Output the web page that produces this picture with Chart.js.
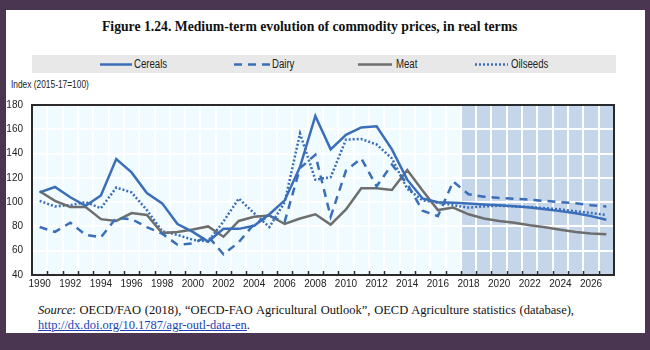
<!DOCTYPE html>
<html>
<head>
<meta charset="utf-8">
<script src="https://cdn.jsdelivr.net/npm/chart.js@4.4.1/dist/chart.umd.min.js"></script>
<style>
  html, body { margin: 0; padding: 0; }
  body { width: 650px; height: 350px; background: #4a3651; position: relative; overflow: hidden; }
  #panel { position: absolute; left: 6px; top: 10px; width: 639px; height: 323px; background: #ffffff; }
  .abs { position: absolute; white-space: nowrap; }
  #title { left: 102px; top: 19px; font-family: "Liberation Serif", "Times New Roman", serif; font-weight: bold; font-size: 13.7px; color: #111; }
  #legend { left: 32px; top: 55px; width: 584px; height: 18px; background: #e8e8e8; }
  .lt { font-family: "Liberation Sans", Arial, sans-serif; font-size: 12px; color: #222; top: 56px; line-height: 16px; transform: scaleX(0.8); transform-origin: 0 50%; }
  #ylab { left: 11px; top: 78px; font-family: "Liberation Sans", Arial, sans-serif; font-size: 11px; color: #222; transform: scaleX(0.76); transform-origin: 0 50%; }
  #chartbox { position: absolute; left: 0; top: 90px; width: 650px; height: 210px; }
  #source { position: absolute; left: 38px; top: 303px; width: 536px; font-family: "Liberation Serif", "Times New Roman", serif; font-size: 12.5px; line-height: 14.5px; color: #111; text-align: justify; }
  #source a { color: #1a3fb8; text-decoration: underline; }
</style>
</head>
<body>
<div id="panel"></div>
<div id="title" class="abs">Figure 1.24. Medium-term evolution of commodity prices, in real terms</div>
<div id="legend" class="abs"></div>
<svg class="abs" style="left:0;top:0" width="650" height="100">
  <line x1="100" y1="64.5" x2="132" y2="64.5" stroke="#3a6eb8" stroke-width="2.5"/>
  <line x1="234" y1="64.5" x2="270" y2="64.5" stroke="#3a6eb8" stroke-width="2.5" stroke-dasharray="8 6"/>
  <line x1="358" y1="64.5" x2="392" y2="64.5" stroke="#6e6e6e" stroke-width="2.5"/>
  <line x1="475" y1="64.5" x2="508" y2="64.5" stroke="#3a6eb8" stroke-width="2.5" stroke-dasharray="2 2"/>
</svg>
<div class="abs lt" style="left:134px">Cereals</div>
<div class="abs lt" style="left:272px">Dairy</div>
<div class="abs lt" style="left:396px">Meat</div>
<div class="abs lt" style="left:511px">Oilseeds</div>
<div id="ylab" class="abs">Index (2015-17=100)</div>
<div id="chartbox"><canvas id="c"></canvas></div>
<div id="source"><i>Source</i>: OECD/FAO (2018), “OECD-FAO Agricultural Outlook”, OECD Agriculture statistics (database), <a href="#">http://dx.doi.org/10.1787/agr-outl-data-en</a>.</div>

<script>
const years = ["1990","1991","1992","1993","1994","1995","1996","1997","1998","1999",
  "2000","2001","2002","2003","2004","2005","2006","2007","2008","2009",
  "2010","2011","2012","2013","2014","2015","2016","2017","2018","2019",
  "2020","2021","2022","2023","2024","2025","2026","2027"];
const cereals = [108, 112.5, 104, 97, 105.5, 135.5, 124.5, 107.5, 99, 82,
  75.5, 67.5, 78, 78, 80.5, 90, 101.5, 129, 171, 143.5,
  155.5, 161.5, 162.5, 143.5, 118.5, 103, 100, 99.5, 98.8, 98,
  97.4, 96.6, 95.5, 94.2, 92.6, 90.8, 88.5, 85.5];
const dairy = [79.5, 75.5, 83, 73, 71, 87, 86, 79.5, 74, 65,
  66, 72, 57, 67, 82, 88.5, 84, 128, 139, 88,
  126, 136, 113, 131, 115, 93, 88.5, 117, 106.5, 104.5,
  103.5, 102.8, 102, 101, 100, 99, 97.5, 96.5];
const meat = [109, 101, 96, 96, 86, 84.5, 91, 89.5, 74.5, 75.5,
  77.5, 80, 71.5, 84.5, 88, 89, 82, 86.5, 90, 81.5,
  94, 111.5, 111.5, 110, 126.5, 109.5, 93.5, 95.5, 90, 86.5,
  84.5, 83, 81, 79.3, 77.3, 75.5, 74.2, 73.5];
const oilseeds = [101, 96.5, 97.5, 100, 95, 112, 108, 93.5, 76, 73,
  69, 67.5, 84, 103, 91, 79.5, 100, 156.5, 118.5, 120.5,
  151.5, 152, 147.5, 136, 111, 101.5, 99.5, 97.5, 95.5, 96.5,
  97, 96.5, 96, 95, 94, 92.5, 91, 89.5];
const yTicks = [40, 60, 80, 100, 120, 140, 160, 180];
const projectionStart = "2018";

const BLUE = "#3a6eb8", GREY = "#6e6e6e";
const SANS = '"Liberation Sans", Arial, sans-serif';

const bgPlugin = {
  id: "bg",
  beforeDraw(chart) {
    const {ctx, chartArea: a, scales: {x}} = chart;
    const w = x.getPixelForValue(1) - x.getPixelForValue(0);
    const sx = x.getPixelForValue(years.indexOf(projectionStart)) - w / 2;
    ctx.save();
    ctx.fillStyle = "#effbfe";
    ctx.fillRect(a.left, a.top, a.right - a.left, a.bottom - a.top);
    ctx.fillStyle = "#c5d6eb";
    ctx.fillRect(sx, a.top, a.right - sx, a.bottom - a.top);
    ctx.restore();
  },
  afterDraw(chart) {
    const {ctx, chartArea: a, scales: {x}} = chart;
    ctx.save();
    ctx.strokeStyle = "#2a2a2a";
    ctx.lineWidth = 1.5;
    const w = x.getPixelForValue(1) - x.getPixelForValue(0);
    ctx.beginPath();
    for (let i = 0; i < years.length - 1; i++) {
      const px = Math.round(x.getPixelForValue(i) + w / 2) + 0.5;
      ctx.moveTo(px, a.bottom);
      ctx.lineTo(px, a.bottom - 4);
    }
    ctx.stroke();
    ctx.lineWidth = 2;
    ctx.strokeRect(a.left, a.top, a.right - a.left, a.bottom - a.top);
    ctx.restore();
  }
};

new Chart(document.getElementById("c"), {
  type: "line",
  data: {
    labels: years,
    datasets: [
      {label: "Cereals", data: cereals, borderColor: BLUE, borderWidth: 2.5},
      {label: "Dairy", data: dairy, borderColor: BLUE, borderWidth: 2.5, borderDash: [8, 6]},
      {label: "Meat", data: meat, borderColor: GREY, borderWidth: 2.5},
      {label: "Oilseeds", data: oilseeds, borderColor: BLUE, borderWidth: 2.5, borderDash: [2, 2]}
    ]
  },
  options: {
    responsive: true,
    maintainAspectRatio: false,
    animation: false,
    devicePixelRatio: 1,
    layout: {padding: {top: 7, right: 36, bottom: 3, left: 0}},
    elements: {point: {radius: 0}, line: {tension: 0, fill: false}},
    plugins: {legend: {display: false}, tooltip: {enabled: false}},
    scales: {
      x: {
        offset: true,
        grid: {offset: true, color: "#ffffff", lineWidth: 2, drawTicks: false},
        border: {display: false},
        ticks: {
          autoSkip: false, maxRotation: 0, padding: 3, color: "#222",
          font: {family: SANS, size: 10},
          callback: function(v, i) { return (i % 2 === 0) ? years[i] : ""; }
        },
        afterFit(s) { s.height = 22; }
      },
      y: {
        min: 40, max: 180,
        afterBuildTicks(s) { s.ticks = yTicks.map(v => ({value: v})); },
        grid: {color: "#ffffff", lineWidth: 2, drawTicks: false},
        border: {display: false},
        ticks: {padding: 9, color: "#222", font: {family: SANS, size: 10}},
        afterFit(s) { s.width = 32; }
      }
    }
  },
  plugins: [bgPlugin]
});
</script>
</body>
</html>
